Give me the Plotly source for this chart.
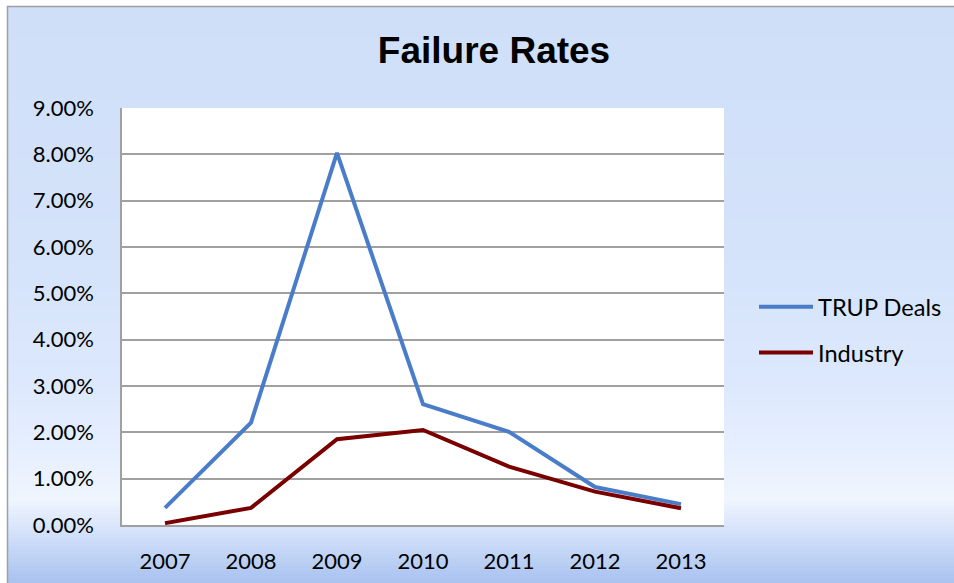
import plotly.graph_objects as go

years = ["2007", "2008", "2009", "2010", "2011", "2012", "2013"]
trup_deals = [0.0037, 0.0221, 0.0803, 0.0261, 0.0201, 0.0082, 0.0045]
industry = [0.0004, 0.0037, 0.0185, 0.0205, 0.0126, 0.0072, 0.0036]
y_ticks = [i / 100 for i in range(10)]

W, H = 954, 583
L, T = 122, 108
PW, PH = 602, 417
R, B = W - L - PW, H - T - PH


def px_x(p):
    return (p - L) / PW


def px_y(p):
    return (T + PH - p) / PH


stops = [
    (6, (207, 223, 248)),
    (250, (212, 227, 250)),
    (380, (220, 232, 253)),
    (450, (230, 239, 254)),
    (500, (239, 245, 254)),
    (540, (205, 221, 249)),
    (583, (168, 194, 239)),
]


def color_at(y):
    for (y0, c0), (y1, c1) in zip(stops[:-1], stops[1:]):
        if y0 <= y <= y1:
            t = (y - y0) / (y1 - y0)
            return "rgb(%d,%d,%d)" % tuple(round(a + (b - a) * t) for a, b in zip(c0, c1))
    return "rgb(%d,%d,%d)" % stops[-1][1]


shapes = []
step = 4
y = 6
while y < H:
    y2 = min(y + step, H)
    shapes.append(dict(type="rect", xref="paper", yref="paper", layer="below",
                       x0=px_x(7), x1=px_x(W + 2), y0=px_y(y2 + 0.5), y1=px_y(y),
                       fillcolor=color_at(y + step / 2), line=dict(width=0)))
    y = y2
# plot area white
shapes.append(dict(type="rect", xref="paper", yref="paper", layer="below",
                   x0=0, x1=1, y0=0, y1=1, fillcolor="white", line=dict(width=0)))
# outer border (top & left)
shapes.append(dict(type="line", xref="paper", yref="paper", layer="below",
                   x0=px_x(7), x1=px_x(W + 2), y0=px_y(6.5), y1=px_y(6.5),
                   line=dict(color="#a0a0a0", width=1.5)))
shapes.append(dict(type="line", xref="paper", yref="paper", layer="below",
                   x0=px_x(7.5), x1=px_x(7.5), y0=px_y(6), y1=px_y(H + 2),
                   line=dict(color="#a0a0a0", width=1.5)))

fig = go.Figure()
fig.add_trace(go.Scatter(x=years, y=trup_deals, mode="lines", name="TRUP Deals",
                         legendgroup="a",
                         line=dict(color="#4a7dc9", width=4)))
fig.add_trace(go.Scatter(x=years, y=industry, mode="lines", name="Industry",
                         legendgroup="b",
                         line=dict(color="#7a0000", width=4)))

fig.update_layout(
    width=W, height=H,
    margin=dict(l=L, r=R, t=T, b=B, autoexpand=False),
    paper_bgcolor="white",
    plot_bgcolor="white",
    shapes=shapes,
    title=dict(text="<b>Failure Rates</b>", x=494 / W, xanchor="center",
               y=1 - 50 / H, yanchor="middle", yref="container",
               font=dict(family="Liberation Sans, Arial, sans-serif", size=37, color="black")),
    font=dict(family="Lato, Carlito, sans-serif", color="black"),
    legend=dict(x=px_x(754), xanchor="left", y=px_y(330), yanchor="middle",
                bgcolor="rgba(0,0,0,0)", font=dict(size=23.6, color="black"),
                itemwidth=54, tracegroupgap=12, traceorder="grouped"),
    xaxis=dict(type="category", range=[-0.5, 6.5], showgrid=False,
               showline=True, linecolor="#a0a0a0", linewidth=1.5,
               ticks="", tickfont=dict(size=22), ticklabelstandoff=16,
               fixedrange=True),
    yaxis=dict(range=[0, 0.09], tickvals=y_ticks, tickformat=".2%",
               showgrid=True, gridcolor="#a0a0a0", gridwidth=1.5,
               showline=True, linecolor="#a0a0a0", linewidth=1.5,
               zeroline=False, ticks="", tickfont=dict(size=22),
               ticklabelstandoff=22, fixedrange=True),
)

post = ("document.body.style.margin='0';"
        "document.documentElement.style.overflow='hidden';"
        "document.body.style.overflow='hidden';")
fig.write_html("out.html", post_script=post, config={"displayModeBar": False})
